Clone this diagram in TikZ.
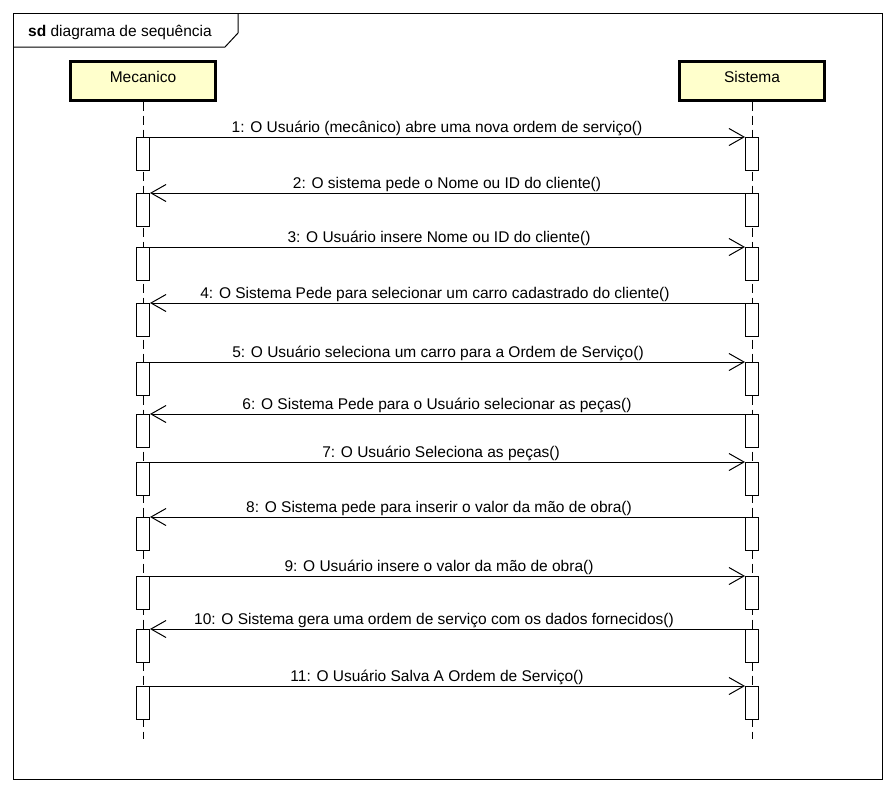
\documentclass[tikz,border=0pt]{standalone}
\usepackage{fontspec}
\setmainfont{Liberation Sans}
\usetikzlibrary{arrows.meta}
\definecolor{headfill}{RGB}{255,255,204}
\begin{document}
\begin{tikzpicture}[x=1pt,y=-1pt,
  every node/.style={font=\fontsize{15.5}{18}\selectfont},
  head/.style={draw=black,line width=3pt,fill=headfill,minimum width=145pt,minimum height=39pt,inner sep=0pt,text depth=8pt},
  act/.style={draw=black,line width=1pt,fill=white,minimum width=13pt,minimum height=33pt,inner sep=0pt,anchor=north},
  life/.style={draw=black,line width=1pt,dash pattern=on 9pt off 5pt},
  msg/.style={draw=black,line width=1pt,-{Straight Barb[length=15pt,width=17pt,line width=1pt]}},
  lbl/.style={anchor=base,inner sep=0pt}]
\useasboundingbox (0,0) rectangle (894,793);
\fill[white] (0,0) rectangle (894,793);
% frame
\draw[line width=1pt] (13,13) rectangle (882,779);
\draw[line width=1pt] (13,47) -- (225,47) -- (238,33) -- (238,13);
\node[anchor=base west,inner sep=0pt] (title) at (28,36) {\textbf{sd} diagrama de sequência};
% heads
\node[head] (A) at (143,80.5) {Mecanico};
\node[head] (B) at (752,80.5) {Sistema};
\coordinate (Aend) at (143,739);
\coordinate (Bend) at (752,739);
\draw[life] (A.south) -- (Aend);
\draw[life] (B.south) -- (Bend);
% activations and messages
\foreach \i/\y in {1/137,2/193,3/247,4/303,5/362,6/414,7/462,8/517,9/576,10/629,11/686}{
  \node[act] (a\i) at (143,\y) {};
  \node[act] (b\i) at (752,\y) {};
}
\draw[msg] (a1.north east) -- (b1.north west);
\draw[msg] (b2.north west) -- (a2.north east);
\draw[msg] (a3.north east) -- (b3.north west);
\draw[msg] (b4.north west) -- (a4.north east);
\draw[msg] (a5.north east) -- (b5.north west);
\draw[msg] (b6.north west) -- (a6.north east);
\draw[msg] (a7.north east) -- (b7.north west);
\draw[msg] (b8.north west) -- (a8.north east);
\draw[msg] (a9.north east) -- (b9.north west);
\draw[msg] (b10.north west) -- (a10.north east);
\draw[msg] (a11.north east) -- (b11.north west);
% labels
\node[lbl] (l1) at (437,132) {1: O Usuário (mecânico) abre uma nova ordem de serviço()};
\node[lbl] (l2) at (447,188) {2: O sistema pede o Nome ou ID do cliente()};
\node[lbl] (l3) at (439,242) {3: O Usuário insere Nome ou ID do cliente()};
\node[lbl] (l4) at (435,298) {4: O Sistema Pede para selecionar um carro cadastrado do cliente()};
\node[lbl] (l5) at (438,357) {5: O Usuário seleciona um carro para a Ordem de Serviço()};
\node[lbl] (l6) at (437,409) {6: O Sistema Pede para o Usuário selecionar as peças()};
\node[lbl] (l7) at (441,457) {7: O Usuário Seleciona as peças()};
\node[lbl] (l8) at (439,512) {8: O Sistema pede para inserir o valor da mão de obra()};
\node[lbl] (l9) at (439,571) {9: O Usuário insere o valor da mão de obra()};
\node[lbl] (l10) at (434,624) {10: O Sistema gera uma ordem de serviço com os dados fornecidos()};
\node[lbl] (l11) at (437,681) {11: O Usuário Salva A Ordem de Serviço()};
\end{tikzpicture}
\end{document}
